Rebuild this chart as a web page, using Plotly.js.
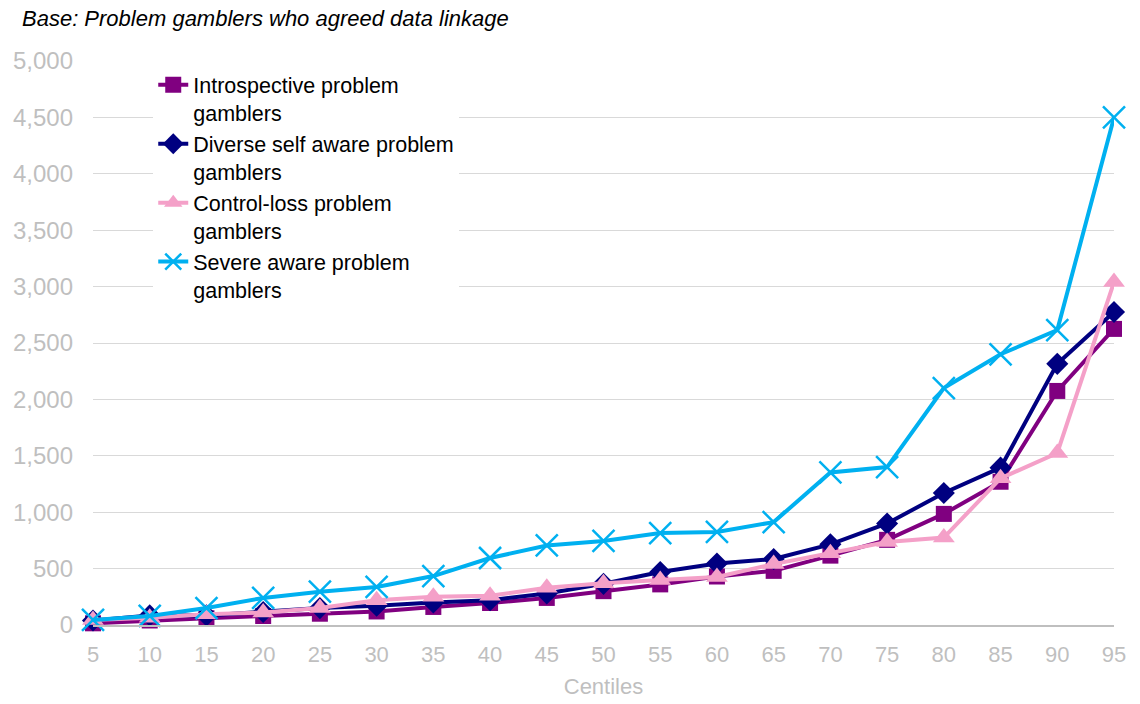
<!DOCTYPE html>
<html>
<head>
<meta charset="utf-8">
<script src="https://cdn.plot.ly/plotly-3.0.1.min.js"></script>
<style>html,body{margin:0;padding:0;background:#fff;}#chart{width:1140px;height:704px;}</style>
</head>
<body>
<div id="chart"></div>
<script>
var centiles = [5, 10, 15, 20, 25, 30, 35, 40, 45, 50, 55, 60, 65, 70, 75, 80, 85, 90, 95];
var introspective = [15, 40, 60, 80, 100, 120, 160, 195, 240, 300, 360, 430, 480, 615, 755, 985, 1270, 2075, 2625];
var diverse = [40, 85, 85, 115, 150, 170, 200, 220, 280, 365, 470, 545, 585, 715, 900, 1170, 1395, 2315, 2775];
var controlLoss = [45, 65, 95, 110, 150, 220, 250, 260, 330, 370, 400, 425, 540, 635, 735, 775, 1300, 1525, 3040];
var severe = [45, 80, 150, 240, 295, 337, 434, 594, 705, 745, 815, 825, 912, 1352, 1400, 2100, 2400, 2615, 4500];
var seriesNames = ["Introspective problem<br>gamblers", "Diverse self aware problem<br>gamblers", "Control-loss problem<br>gamblers", "Severe aware problem<br>gamblers"];

var traces = [
  {x: centiles, y: introspective, name: seriesNames[0], legendgroup: 'g1', type: 'scatter', mode: 'lines+markers', cliponaxis: false,
   line: {color: '#800080', width: 4}, marker: {symbol: 'square', size: 16, color: '#800080'}},
  {x: centiles, y: diverse, name: seriesNames[1], legendgroup: 'g2', type: 'scatter', mode: 'lines+markers', cliponaxis: false,
   line: {color: '#000080', width: 4}, marker: {symbol: 'diamond', size: 17, color: '#000080'}},
  {x: centiles, y: controlLoss, name: seriesNames[2], legendgroup: 'g3', type: 'scatter', mode: 'lines+markers', cliponaxis: false,
   line: {color: '#F4A0C8', width: 4}, marker: {symbol: 'triangle-up', size: 19, color: '#F4A0C8'}},
  {x: centiles, y: severe, name: seriesNames[3], legendgroup: 'g4', type: 'scatter', mode: 'lines+markers', cliponaxis: false,
   line: {color: '#00B0F0', width: 4}, marker: {symbol: 'x-thin', size: 22, color: '#00B0F0', line: {color: '#00B0F0', width: 2.5}}}
];

var layout = {
  width: 1140, height: 704,
  margin: {l: 93, r: 26, t: 61, b: 79},
  paper_bgcolor: '#ffffff', plot_bgcolor: '#ffffff',
  font: {family: 'Liberation Sans, Arial, sans-serif', color: '#000000'},
  title: {text: '<i>Base: Problem gamblers who agreed data linkage</i>', xref: 'container', yref: 'container',
          x: 22/1140, xanchor: 'left', y: 1 - 18/704, yanchor: 'middle',
          font: {family: 'Liberation Sans, Arial, sans-serif', size: 22, color: '#000000'}},
  xaxis: {range: [5, 95], tickvals: centiles, ticktext: centiles.map(String), showgrid: false, zeroline: false,
          showline: true, linecolor: '#BFBFBF', linewidth: 1.5, ticks: '', ticklabelstandoff: 9,
          tickfont: {size: 22, color: '#BFBFBF'},
          title: {text: 'Centiles', font: {size: 22, color: '#BFBFBF'}, standoff: 12}},
  yaxis: {range: [0, 5000], dtick: 500, tickformat: ',d', showgrid: true, gridcolor: '#D9D9D9', gridwidth: 1,
          zeroline: false, showline: false, ticks: '', ticklabelstandoff: 19,
          tickfont: {size: 24, color: '#BFBFBF'}},
  legend: {x: 0.059, xanchor: 'left', y: 0.994, yanchor: 'top', bgcolor: 'rgba(255,255,255,1)',
           font: {size: 21.5, color: '#000000'}, valign: 'top', tracegroupgap: 0, itemwidth: 30},
  showlegend: true
};

Plotly.newPlot('chart', traces, layout, {displayModeBar: false, staticPlot: true});
</script>
</body>
</html>
